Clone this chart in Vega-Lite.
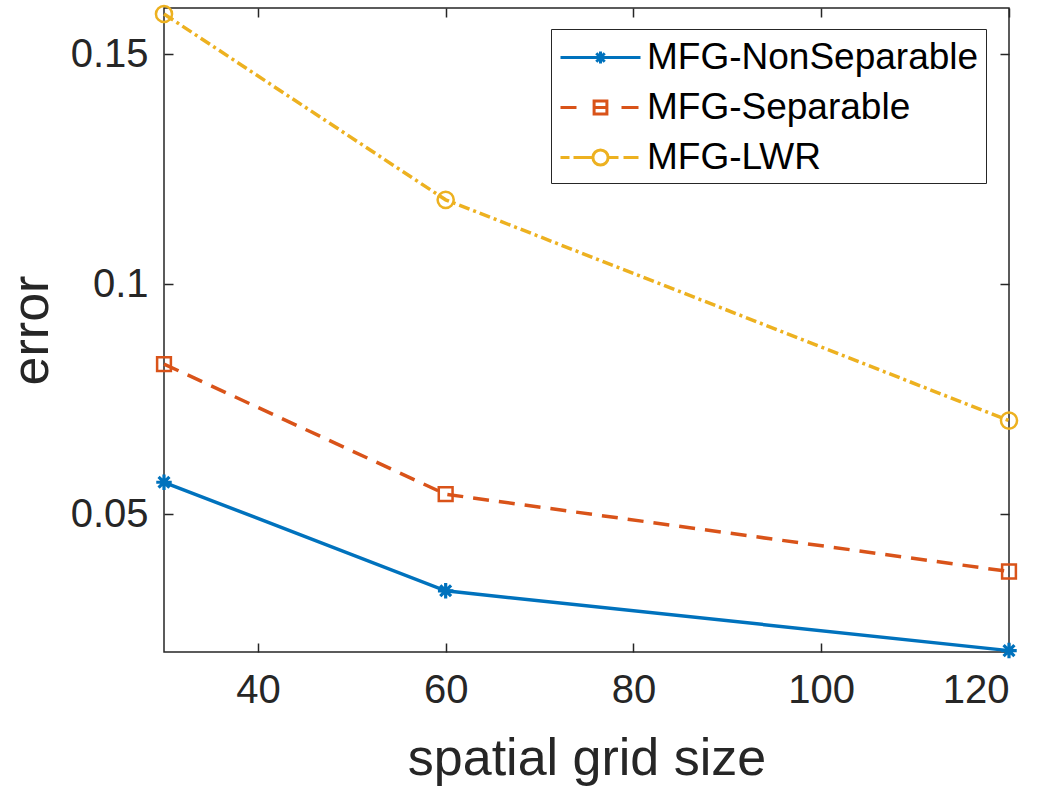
{
  "$schema": "https://vega.github.io/schema/vega-lite/v6.json",
  "autosize": "none",
  "width": 845,
  "height": 644,
  "padding": {"left": 164, "top": 8, "right": 39, "bottom": 137},
  "background": "white",
  "config": {
    "view": {"stroke": "#262626", "strokeWidth": 1.5},
    "font": "Liberation Sans",
    "axis": {
      "grid": false,
      "domain": false,
      "tickColor": "#262626",
      "tickWidth": 1.5,
      "tickSize": -9,
      "labelFont": "Liberation Sans",
      "labelFontSize": 40,
      "labelColor": "#262626",
      "titleFont": "Liberation Sans",
      "titleFontSize": 52,
      "titleFontWeight": "normal",
      "titleColor": "#262626"
    },
    "legend": {
      "orient": "none",
      "legendX": 387,
      "legendY": 21,
      "padding": 7,
      "rowPadding": 10,
      "symbolSize": 1600,
      "symbolStrokeWidth": 3,
      "labelOffset": 46,
      "labelFontSize": 37,
      "labelFont": "Liberation Sans",
      "labelColor": "#000000",
      "labelLimit": 0,
      "strokeColor": "#262626",
      "fillColor": "white",
      "cornerRadius": 0
    }
  },
  "data": {
    "values": [
      {"series": "MFG-NonSeparable", "size": 30, "error": 0.0569},
      {"series": "MFG-NonSeparable", "size": 60, "error": 0.0333},
      {"series": "MFG-NonSeparable", "size": 120, "error": 0.0203},
      {"series": "MFG-Separable", "size": 30, "error": 0.0826},
      {"series": "MFG-Separable", "size": 60, "error": 0.0543},
      {"series": "MFG-Separable", "size": 120, "error": 0.0375},
      {"series": "MFG-LWR", "size": 30, "error": 0.1587},
      {"series": "MFG-LWR", "size": 60, "error": 0.1183},
      {"series": "MFG-LWR", "size": 120, "error": 0.0703}
    ]
  },
  "encoding": {
    "x": {"field": "size", "type": "quantitative", "scale": {"domain": [30, 120], "nice": false, "zero": false}, "axis": null},
    "y": {"field": "error", "type": "quantitative", "scale": {"domain": [0.02, 0.16], "nice": false, "zero": false}, "axis": null},
    "color": {
      "field": "series", "type": "nominal",
      "scale": {"domain": ["MFG-NonSeparable", "MFG-Separable", "MFG-LWR"], "range": ["#0072BD", "#D95319", "#EDB120"]},
      "legend": {
        "title": null,
        "encode": {
          "symbols": {
            "update": {
              "fill": {"value": "transparent"},
              "shape": {"signal": "datum.value === 'MFG-NonSeparable' ? 'M-0.95,0H3.05M0.75,0H1.35M1.05,-0.3V0.3M0.84,-0.21L1.26,0.21M0.84,0.21L1.26,-0.21' : datum.value === 'MFG-Separable' ? 'M-0.95,0H-0.15M0.73,-0.32H1.37V0.32H0.73ZM0.73,0H1.37M2.1,0H2.95' : 'M-0.95,0H-0.5M-0.3,0H0.67M0.67,0A0.38,0.38 0 1,0 1.43,0A0.38,0.38 0 1,0 0.67,0M1.43,0H1.95M2.2,0H2.95'"}
            }
          }
        }
      }
    }
  },
  "resolve": {"axis": {"x": "independent", "y": "independent"}},
  "layer": [
    {
      "transform": [{"filter": "datum.series === 'MFG-NonSeparable'"}],
      "mark": {"type": "line", "strokeWidth": 3.5, "clip": false},
      "encoding": {
        "x": {
          "field": "size", "type": "quantitative",
          "axis": {
            "orient": "bottom",
            "values": [40, 60, 80, 100, 120],
            "labelPadding": 27,
            "title": "spatial grid size",
            "titleX": 422.5,
            "titleY": 122,
            "titleBaseline": "alphabetic",
            "titleAlign": "center"
          }
        },
        "y": {
          "field": "error", "type": "quantitative",
          "axis": {
            "orient": "left",
            "values": [0.05, 0.1, 0.15],
            "format": "~g",
            "labelPadding": 25,
            "title": "error",
            "titleX": -117,
            "titleY": 322,
            "titleAngle": 270,
            "titleBaseline": "alphabetic",
            "titleAlign": "center"
          }
        }
      }
    },
    {
      "transform": [{"filter": "datum.series === 'MFG-Separable'"}],
      "mark": {"type": "line", "strokeWidth": 3.5, "strokeDash": [16, 10], "clip": false},
      "encoding": {
        "x": {
          "field": "size", "type": "quantitative",
          "axis": {"orient": "top", "values": [40, 60, 80, 100, 120], "labels": false, "title": null}
        },
        "y": {
          "field": "error", "type": "quantitative",
          "axis": {"orient": "right", "values": [0.05, 0.1, 0.15], "labels": false, "title": null}
        }
      }
    },
    {
      "transform": [{"filter": "datum.series === 'MFG-LWR'"}],
      "mark": {"type": "line", "strokeWidth": 3.5, "strokeDash": [11, 4, 3, 4], "clip": false}
    },
    {
      "transform": [{"filter": "datum.series === 'MFG-NonSeparable'"}],
      "mark": {"type": "point", "filled": false, "strokeWidth": 3.2, "opacity": 1, "clip": false, "size": 240, "shape": "M-1,0H1M0,-1V1M-0.7,-0.7L0.7,0.7M-0.7,0.7L0.7,-0.7"}
    },
    {
      "transform": [{"filter": "datum.series === 'MFG-Separable'"}],
      "mark": {"type": "point", "filled": false, "strokeWidth": 2.5, "opacity": 1, "clip": false, "size": 190, "shape": "square"}
    },
    {
      "transform": [{"filter": "datum.series === 'MFG-LWR'"}],
      "mark": {"type": "point", "filled": false, "strokeWidth": 2.5, "opacity": 1, "clip": false, "size": 260, "shape": "circle"}
    }
  ]
}
